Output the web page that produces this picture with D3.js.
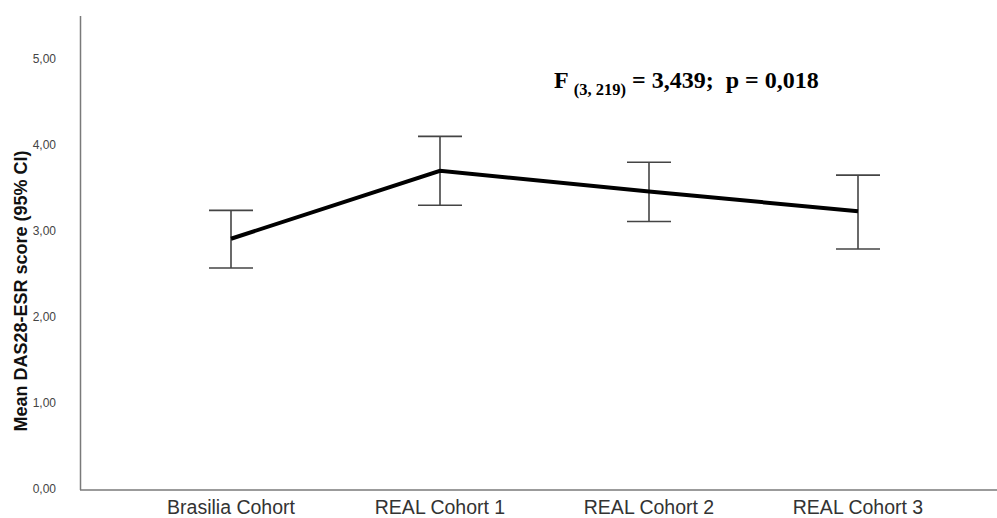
<!DOCTYPE html>
<html><head><meta charset="utf-8">
<script src="https://cdn.jsdelivr.net/npm/d3@7"></script>
<style>body{margin:0;background:#fff}</style>
</head><body>
<svg id="c" width="997" height="518"></svg>
<script>
const categories = ["Brasilia Cohort", "REAL Cohort 1", "REAL Cohort 2", "REAL Cohort 3"];
const means = [2.91, 3.70, 3.46, 3.23];
const ciLower = [2.57, 3.30, 3.11, 2.79];
const ciUpper = [3.24, 4.10, 3.80, 3.65];
const yTicks = [0, 1, 2, 3, 4, 5];
const yTitle = "Mean DAS28-ESR score (95% CI)";

const svg = d3.select("#c");
const x = d3.scalePoint().domain(categories).range([231, 858]);
const y = d3.scaleLinear().domain([0, 5]).range([489, 59]);
const fmt = v => d3.format(".2f")(v).replace(".", ",");

// axes lines
svg.append("line").attr("x1", 80.5).attr("x2", 80.5).attr("y1", 16).attr("y2", y(0) + 1)
  .attr("stroke", "#7a7a7a").attr("stroke-width", 1.5);
svg.append("line").attr("x1", 80).attr("x2", 997).attr("y1", y(0) + 1).attr("y2", y(0) + 1)
  .attr("stroke", "#7a7a7a").attr("stroke-width", 1.5);

// y tick labels
svg.append("g").selectAll("text").data(yTicks).join("text")
  .attr("x", 56).attr("y", d => y(d)).attr("dy", "0.35em")
  .attr("text-anchor", "end").attr("font-family", "Liberation Sans, Arial, sans-serif")
  .attr("font-size", 12).attr("fill", "#444").text(fmt);

// x labels
svg.append("g").selectAll("text").data(categories).join("text")
  .attr("x", d => x(d)).attr("y", 514).attr("text-anchor", "middle")
  .attr("font-family", "Liberation Sans, Arial, sans-serif")
  .attr("font-size", 19.5).attr("fill", "#333")
  .text(d => d);

// y title
svg.append("text").attr("transform", "translate(27,291) rotate(-90)")
  .attr("text-anchor", "middle").attr("font-family", "Liberation Sans, Arial, sans-serif")
  .attr("font-weight", "bold").attr("font-size", 18).attr("fill", "#111").text(yTitle);

// error bars
const eb = svg.append("g").attr("stroke", "#444").attr("stroke-width", 1.6);
categories.forEach((c, i) => {
  eb.append("line").attr("x1", x(c)).attr("x2", x(c)).attr("y1", y(ciUpper[i])).attr("y2", y(ciLower[i]));
  eb.append("line").attr("x1", x(c) - 22).attr("x2", x(c) + 22).attr("y1", y(ciUpper[i])).attr("y2", y(ciUpper[i]));
  eb.append("line").attr("x1", x(c) - 22).attr("x2", x(c) + 22).attr("y1", y(ciLower[i])).attr("y2", y(ciLower[i]));
});

// mean line
svg.append("path").datum(categories.map((c, i) => [x(c), y(means[i])]))
  .attr("d", d3.line()).attr("fill", "none").attr("stroke", "#000").attr("stroke-width", 4);

// annotation
const ann = svg.append("text").attr("x", 554).attr("y", 88)
  .attr("font-family", "Liberation Serif, Times New Roman, serif").attr("font-weight", "bold")
  .attr("font-size", 24).attr("fill", "#000");
ann.append("tspan").text("F ");
ann.append("tspan").attr("font-size", 16.5).attr("dy", 7).text("(3, 219)");
ann.append("tspan").attr("dy", -7).text(" = 3,439;\u00a0 p = 0,018");
</script>
</body></html>
